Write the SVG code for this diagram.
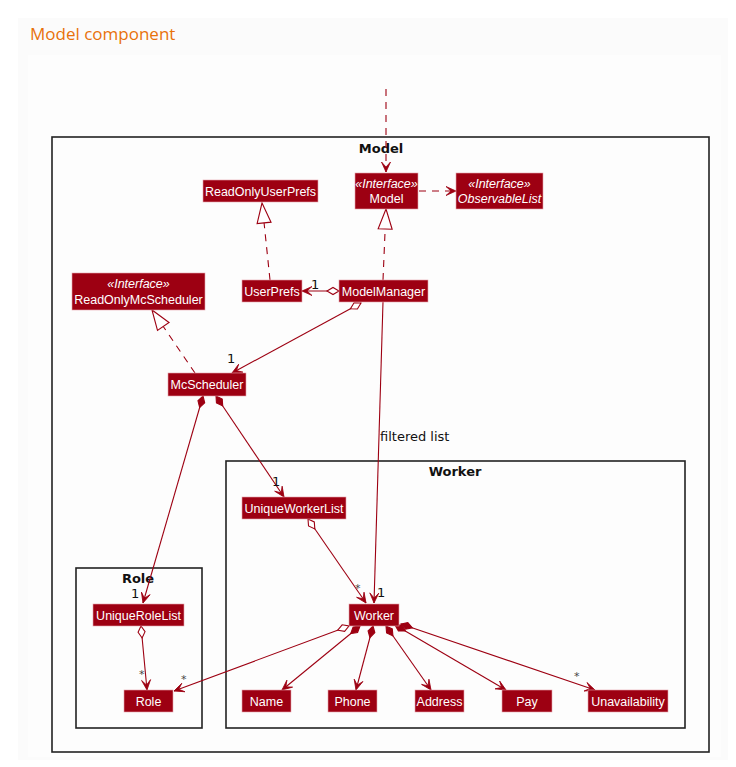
<svg xmlns="http://www.w3.org/2000/svg" width="736" height="767" viewBox="0 0 736 767">
<style>
.node{fill:#9D0012;stroke:#E7A3AD;stroke-width:0.6}
.nt{fill:#fff;font-family:"Liberation Sans",Arial,sans-serif;font-size:12.5px;text-anchor:middle}
.st{font-style:italic}
.frame{fill:none;stroke:#222;stroke-width:1.6}
.ft{font-family:"DejaVu Sans",sans-serif;font-weight:bold;font-size:13px;text-anchor:middle;fill:#111}
.ln{fill:none;stroke:#9D0012;stroke-width:1.1}
.dash{stroke-dasharray:7,6}
.lbl{font-family:"DejaVu Sans",sans-serif;font-size:13px;fill:#111}
.star{font-family:"DejaVu Sans",sans-serif;font-size:11px;fill:#444}
</style>
<defs>
<marker id="arr" viewBox="-11 -6 12 12" markerWidth="12" markerHeight="12" refX="0" refY="0" orient="auto" markerUnits="userSpaceOnUse">
<path d="M0,0 L-10,-4.5 L-5,0 L-10,4.5 Z" fill="#9D0012" stroke="#9D0012" stroke-width="0.8"/>
</marker>
<marker id="tri" viewBox="-22 -9 24 18" markerWidth="24" markerHeight="18" refX="0" refY="0" orient="auto" markerUnits="userSpaceOnUse">
<path d="M0,0 L-20,-7 L-20,7 Z" fill="#fff" stroke="#9D0012" stroke-width="1.1"/>
</marker>
<marker id="odia" viewBox="-1 -5 15 10" markerWidth="15" markerHeight="10" refX="0" refY="0" orient="auto" markerUnits="userSpaceOnUse">
<path d="M0,0 L6,-3.5 L12,0 L6,3.5 Z" fill="#fff" stroke="#9D0012" stroke-width="1.1"/>
</marker>
<marker id="fdia" viewBox="-1 -5 15 10" markerWidth="15" markerHeight="10" refX="0" refY="0" orient="auto" markerUnits="userSpaceOnUse">
<path d="M0,0 L6,-3.5 L12,0 L6,3.5 Z" fill="#9D0012" stroke="#9D0012" stroke-width="1.1"/>
</marker>
</defs>
<rect width="736" height="767" fill="#fff"/>
<rect x="18" y="18" width="710" height="742" fill="#fbfbfb"/>
<rect x="28" y="55" width="693" height="702" fill="#fdfdfd"/>
<text x="30" y="40" font-family="'Open Sans','Noto Sans',sans-serif" font-size="17px" fill="#E8710A">Model component</text>

<g id="frame-model"><rect class="frame" x="52" y="137" width="657" height="615"/><text class="ft" x="381" y="153">Model</text></g>
<g id="frame-worker"><rect class="frame" x="226" y="461" width="459" height="267"/><text class="ft" x="455" y="476">Worker</text></g>
<g id="frame-role"><rect class="frame" x="76" y="568" width="126" height="160"/><text class="ft" x="138" y="583">Role</text></g>

<g id="connectors">
<line class="ln dash" x1="386" y1="89" x2="386" y2="172" marker-end="url(#arr)"/>
<line class="ln dash" x1="419" y1="191" x2="456" y2="191" marker-end="url(#arr)"/>
<line class="ln dash" x1="270" y1="280" x2="262" y2="203" marker-end="url(#tri)"/>
<line class="ln dash" x1="383" y1="280" x2="386" y2="209" marker-end="url(#tri)"/>
<line class="ln" x1="339" y1="291" x2="302" y2="291" marker-start="url(#odia)" marker-end="url(#arr)"/>
<line class="ln dash" x1="195" y1="373" x2="152" y2="310" marker-end="url(#tri)"/>
<line class="ln" x1="361" y1="303" x2="232" y2="373" marker-start="url(#odia)" marker-end="url(#arr)"/>
<line class="ln" x1="383" y1="302" x2="374" y2="603" marker-end="url(#arr)"/>
<line class="ln" x1="203" y1="396" x2="143" y2="603" marker-start="url(#fdia)" marker-end="url(#arr)"/>
<line class="ln" x1="216" y1="396" x2="284" y2="497" marker-start="url(#fdia)" marker-end="url(#arr)"/>
<line class="ln" x1="308" y1="519" x2="366" y2="603" marker-start="url(#odia)" marker-end="url(#arr)"/>
<line class="ln" x1="141" y1="626" x2="147" y2="690" marker-start="url(#odia)" marker-end="url(#arr)"/>
<line class="ln" x1="349" y1="626" x2="174" y2="691" marker-start="url(#odia)" marker-end="url(#arr)"/>
<line class="ln" x1="360" y1="626" x2="282" y2="690" marker-start="url(#fdia)" marker-end="url(#arr)"/>
<line class="ln" x1="373" y1="626" x2="356" y2="690" marker-start="url(#fdia)" marker-end="url(#arr)"/>
<line class="ln" x1="386" y1="626" x2="431" y2="690" marker-start="url(#fdia)" marker-end="url(#arr)"/>
<line class="ln" x1="395" y1="625" x2="506" y2="690" marker-start="url(#fdia)" marker-end="url(#arr)"/>
<line class="ln" x1="401" y1="624" x2="595" y2="690" marker-start="url(#fdia)" marker-end="url(#arr)"/>
<text class="lbl" x="311" y="289">1</text>
<text class="lbl" x="227" y="363">1</text>
<text class="lbl" x="380" y="441">filtered list</text>
<text class="lbl" x="377" y="597">1</text>
<text class="lbl" x="131" y="598">1</text>
<text class="lbl" x="272" y="486">1</text>
<text class="star" x="355" y="592">*</text>
<text class="star" x="139" y="678">*</text>
<text class="star" x="181" y="683">*</text>
<text class="star" x="574" y="680">*</text>
</g>

<g id="Model"><rect class="node" x="355" y="173" width="63" height="36"/><text class="nt st" x="386.5" y="188">«Interface»</text><text class="nt" x="386.5" y="203">Model</text></g>
<g id="ObservableList"><rect class="node" x="456" y="173" width="87" height="36"/><text class="nt st" x="499.5" y="188">«Interface»</text><text class="nt st" x="499.5" y="203">ObservableList</text></g>
<g id="ReadOnlyUserPrefs"><rect class="node" x="203" y="180" width="115" height="22"/><text class="nt" x="260.5" y="195.5">ReadOnlyUserPrefs</text></g>
<g id="UserPrefs"><rect class="node" x="242" y="280" width="60" height="22"/><text class="nt" x="272" y="295.5">UserPrefs</text></g>
<g id="ModelManager"><rect class="node" x="339" y="280" width="89" height="22"/><text class="nt" x="383.5" y="295.5">ModelManager</text></g>
<g id="ReadOnlyMcScheduler"><rect class="node" x="72" y="273" width="133" height="37"/><text class="nt st" x="138.5" y="288">«Interface»</text><text class="nt" x="138.5" y="304">ReadOnlyMcScheduler</text></g>
<g id="McScheduler"><rect class="node" x="168" y="373" width="78" height="23"/><text class="nt" x="207" y="389">McScheduler</text></g>
<g id="UniqueWorkerList"><rect class="node" x="242" y="497" width="104" height="22"/><text class="nt" x="294" y="512.5">UniqueWorkerList</text></g>
<g id="UniqueRoleList"><rect class="node" x="93" y="604" width="91" height="22"/><text class="nt" x="138.5" y="619.5">UniqueRoleList</text></g>
<g id="Role"><rect class="node" x="124" y="690" width="49" height="22"/><text class="nt" x="148.5" y="705.5">Role</text></g>
<g id="Worker"><rect class="node" x="349" y="604" width="50" height="22"/><text class="nt" x="374" y="619.5">Worker</text></g>
<g id="Name"><rect class="node" x="242" y="690" width="49" height="22"/><text class="nt" x="266.5" y="705.5">Name</text></g>
<g id="Phone"><rect class="node" x="328" y="690" width="49" height="22"/><text class="nt" x="352.5" y="705.5">Phone</text></g>
<g id="Address"><rect class="node" x="415" y="690" width="49" height="22"/><text class="nt" x="439.5" y="705.5">Address</text></g>
<g id="Pay"><rect class="node" x="502" y="690" width="50" height="22"/><text class="nt" x="527" y="705.5">Pay</text></g>
<g id="Unavailability"><rect class="node" x="588" y="690" width="80" height="22"/><text class="nt" x="628" y="705.5">Unavailability</text></g>
</svg>
